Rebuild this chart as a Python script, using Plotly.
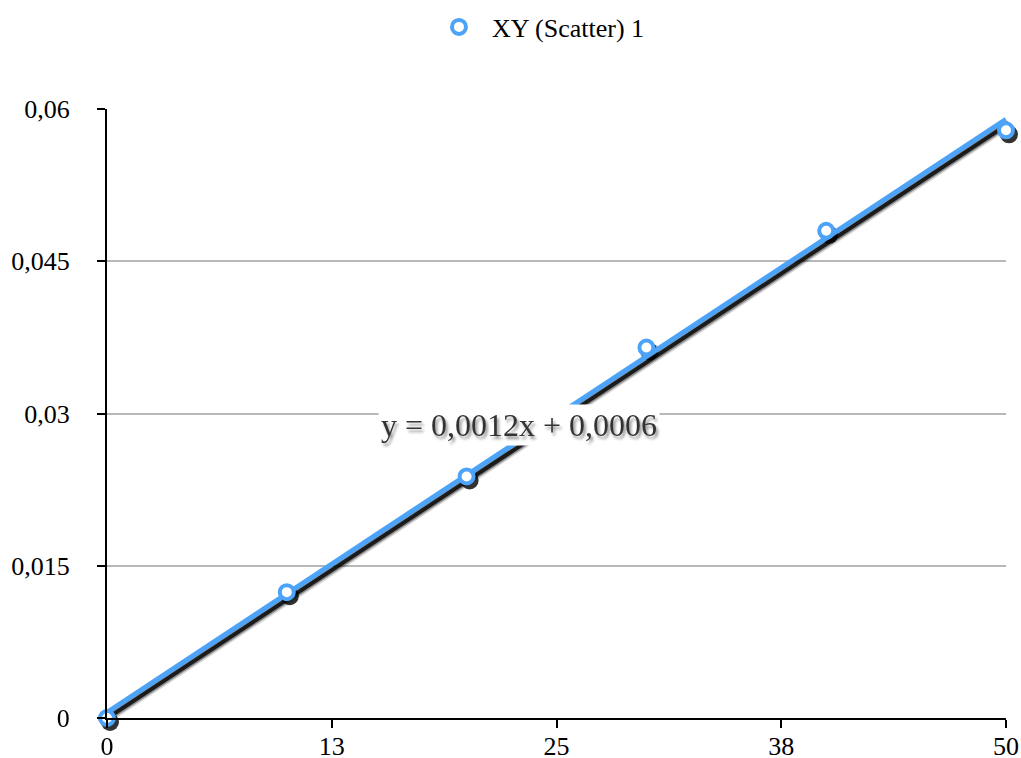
import numpy as np
import plotly.graph_objects as go

# ---- data ----
x_vals = [0, 10, 20, 30, 40, 50]
y_vals = [0.0, 0.0124, 0.0238, 0.0365, 0.0480, 0.0579]
series_name = "XY (Scatter) 1"

x_tickvals = [0, 12.5, 25, 37.5, 50]
x_ticktext = ["0", "13", "25", "38", "50"]
y_tickvals = [0, 0.015, 0.03, 0.045, 0.06]
y_ticktext = ["0", "0,015", "0,03", "0,045", "0,06"]

# linear trendline from the data
slope, intercept = np.polyfit(x_vals, y_vals, 1)
trend_x = [min(x_vals), max(x_vals)]
trend_y = [slope * v + intercept for v in trend_x]
eq_text = "y = " + f"{slope:.4f}".replace(".", ",") + "x + " + f"{intercept:.4f}".replace(".", ",")

BLUE = "#4DA3F7"
FONT = "Liberation Serif, Times New Roman, DejaVu Serif, serif"

W, H = 1021, 758
ML, MR, MT, MB = 107, 12, 109, 36
pw = W - ML - MR
ph = H - MT - MB
dx, dy = 3, 4  # shadow offset in px

xmain_dom = [0, (pw - dx) / pw]
ymain_dom = [dy / ph, 1]
xsh_dom = [dx / pw, 1]
ysh_dom = [0, (ph - dy) / ph]

fig = go.Figure()

# grid-only subplot (x/y) drawn first
fig.add_trace(go.Scatter(x=[None], y=[None], xaxis="x", yaxis="y", showlegend=False,
                         hoverinfo="skip"))

# shadow traces (x2/y2, offset)
for width, op in [(10, 0.15), (7, 0.35), (4, 0.8)]:
    fig.add_trace(go.Scatter(x=trend_x, y=trend_y, mode="lines",
                             line=dict(color="black", width=width), opacity=op,
                             xaxis="x2", yaxis="y2", showlegend=False, hoverinfo="skip",
                             cliponaxis=False))
fig.add_trace(go.Scatter(x=x_vals, y=y_vals, mode="markers",
                         marker=dict(symbol="circle", size=18, color="black"), opacity=0.8,
                         xaxis="x2", yaxis="y2", showlegend=False, hoverinfo="skip",
                         cliponaxis=False))

# trendline (main subplot x3/y3)
fig.add_trace(go.Scatter(x=trend_x, y=trend_y, mode="lines",
                         line=dict(color=BLUE, width=5), showlegend=False, hoverinfo="skip",
                         xaxis="x3", yaxis="y3", cliponaxis=False))
# data points
fig.add_trace(go.Scatter(x=x_vals, y=y_vals, mode="markers",
                         name="\u00a0\u00a0" + series_name,
                         marker=dict(symbol="circle", size=14, color="white",
                                     line=dict(color=BLUE, width=4)),
                         xaxis="x3", yaxis="y3", cliponaxis=False))

common = dict(fixedrange=True, automargin=False)

fig.update_layout(
    width=W, height=H,
    margin=dict(l=ML, r=MR, t=MT, b=MB, autoexpand=False),
    paper_bgcolor="white", plot_bgcolor="rgba(0,0,0,0)",
    font=dict(family=FONT, size=26, color="black"),
    showlegend=True,
    legend=dict(orientation="h", x=0.485, xanchor="center", xref="paper",
                y=1 - 27 / H, yanchor="middle", yref="container",
                font=dict(family=FONT, size=26)),
    # grid subplot
    xaxis=dict(domain=xmain_dom, range=[0, 50], visible=False, anchor="y", **common),
    yaxis=dict(domain=ymain_dom, range=[0, 0.06], tickvals=y_tickvals, showticklabels=False,
               showgrid=True, gridcolor="#B8B8B8", gridwidth=2, zeroline=False,
               showline=False, ticks="", anchor="x", **common),
    # shadow subplot
    xaxis2=dict(domain=xsh_dom, range=[0, 50], visible=False, anchor="y2", **common),
    yaxis2=dict(domain=ysh_dom, range=[0, 0.06], visible=False, anchor="x2", **common),
    # main subplot
    xaxis3=dict(domain=xmain_dom, range=[0, 50], tickvals=x_tickvals, ticktext=x_ticktext,
                showgrid=False, zeroline=False, showline=True, linecolor="black", linewidth=2,
                ticks="outside", ticklen=8, tickwidth=2, tickcolor="black",
                ticklabelstandoff=-4,
                anchor="y3", tickfont=dict(family=FONT, size=26), **common),
    yaxis3=dict(domain=ymain_dom, range=[0, 0.06], tickvals=y_tickvals, ticktext=y_ticktext,
                showgrid=False, zeroline=False,
                showline=True, linecolor="black", linewidth=2,
                ticks="outside", ticklen=8, tickwidth=2, tickcolor="black",
                ticklabelstandoff=22,
                anchor="x3", tickfont=dict(family=FONT, size=26), **common),
    # inside ticks to make crossing tick marks
    xaxis4=dict(domain=xmain_dom, range=[0, 50], tickvals=x_tickvals, showticklabels=False,
                overlaying="x3", anchor="y4", showgrid=False, zeroline=False, showline=False,
                ticks="inside", ticklen=8, tickwidth=2, tickcolor="black", **common),
    yaxis4=dict(domain=ymain_dom, range=[0, 0.06], tickvals=y_tickvals, showticklabels=False,
                overlaying="y3", anchor="x4", showgrid=False, zeroline=False, showline=False,
                ticks="inside", ticklen=8, tickwidth=2, tickcolor="black", **common),
    annotations=[dict(x=22.9, y=0.0289, xref="x3", yref="y3", text=eq_text, showarrow=False,
                      bgcolor="white", borderpad=2,
                      font=dict(family=FONT, size=32, color="#333333",
                                shadow="2px 3px 3px rgba(0,0,0,0.45)"))],
)

fig.write_html(
    "out.html",
    config={"displayModeBar": False, "staticPlot": True},
    post_script="document.body.style.margin='0';document.body.style.overflow='hidden';"
                "document.documentElement.style.overflow='hidden';",
)
